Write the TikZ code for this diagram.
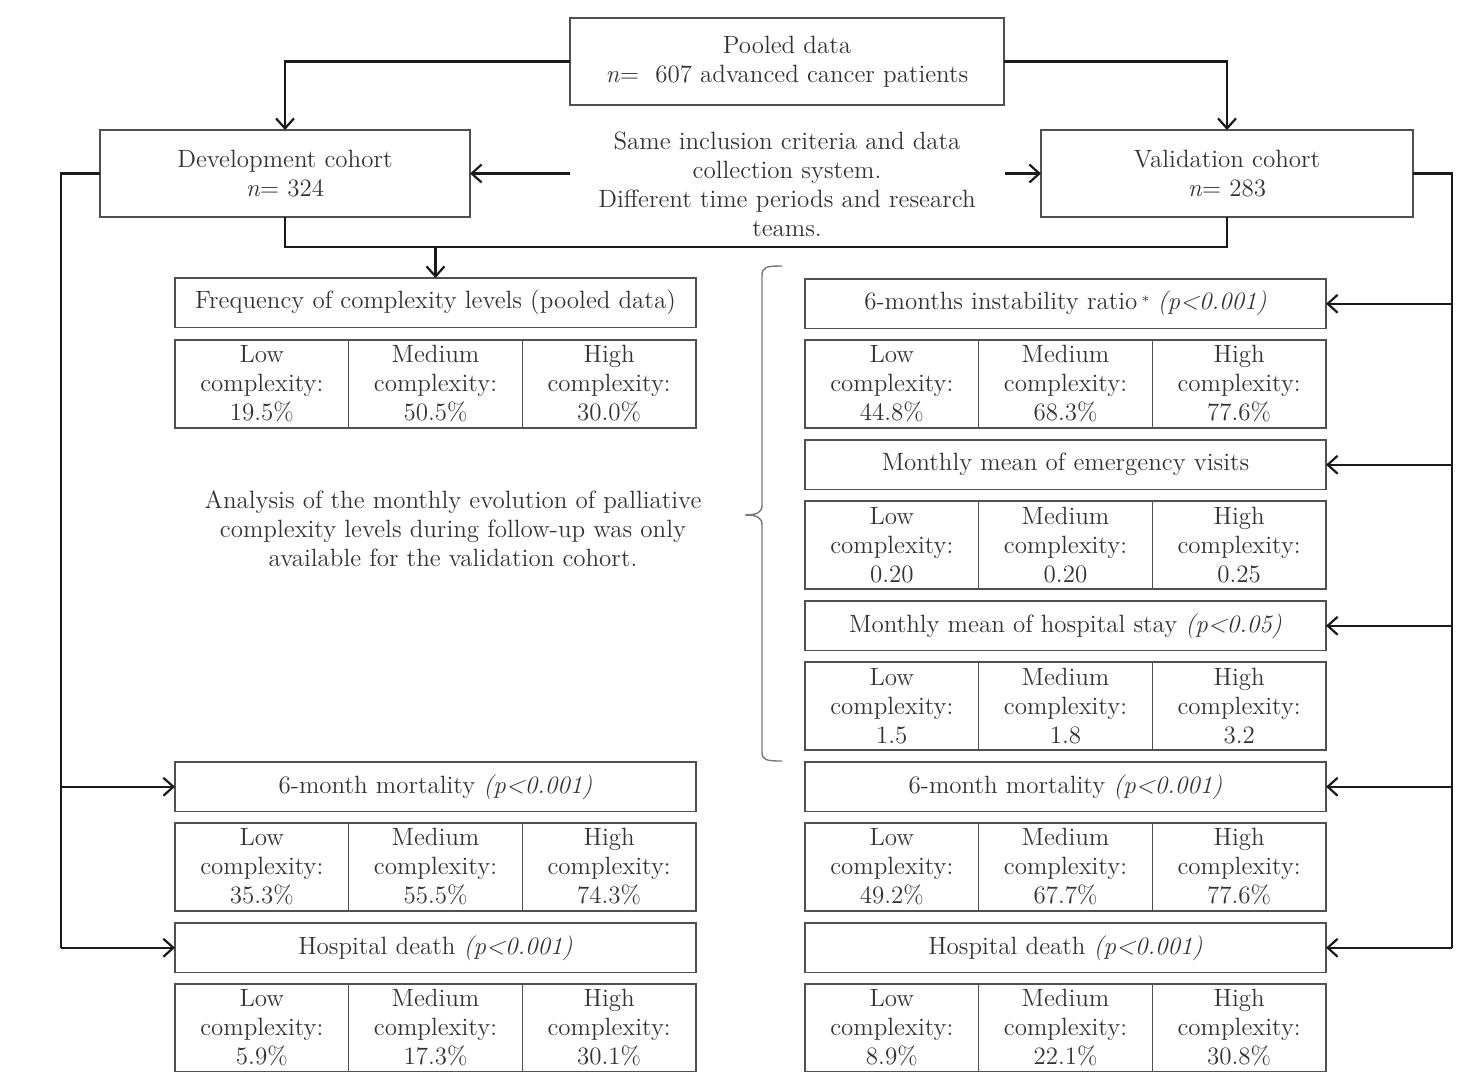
\documentclass[tikz,border=0pt]{standalone}
\usetikzlibrary{arrows.meta}
\definecolor{txtc}{HTML}{333333}
\definecolor{boxc}{HTML}{505050}
\definecolor{linec}{HTML}{1A1A1A}
\definecolor{bracec}{HTML}{777777}
\newcommand\mytab[6]{%
  \node[cell] (#1a) at (#2,#3) {Low\\complexity:\\#4};%
  \node[cell] (#1b) at (#1a.north east) {Medium\\complexity:\\#5};%
  \node[cell] (#1c) at (#1b.north east) {High\\complexity:\\#6};}
\begin{document}
\begin{tikzpicture}[x=0.5pt,y=-0.5pt,
  font=\fontsize{12.5}{14.5}\selectfont,
  boxst/.style={draw=boxc, line width=0.8pt, inner sep=0pt, outer sep=0pt, text=txtc, align=center, anchor=north west},
  titlebox/.style={boxst, minimum width=260.5pt, minimum height=24.75pt},
  cell/.style={boxst, minimum width=86.83pt, minimum height=44pt},
  plain/.style={text=txtc, align=center, inner sep=0pt},
  conn/.style={draw=linec, line width=1.1pt},
  arr/.style={conn, -{Straight Barb[length=5pt,width=9pt,line width=1.1pt]}}]
\useasboundingbox (0,0) rectangle (1481,1071);
\fill[white] (0,0) rectangle (1481,1071);

% top boxes
\node[boxst, minimum width=217pt, minimum height=43.5pt] (pool) at (570,18)
  {Pooled data\\\textit{n}=\ \ 607 advanced cancer patients};
\node[boxst, minimum width=185pt, minimum height=43.5pt] (dev) at (100,130)
  {Development cohort\\\textit{n}= 324};
\node[boxst, minimum width=186pt, minimum height=43.5pt] (val) at (1041,130)
  {Validation cohort\\\textit{n}= 283};
\node[plain] (same) at (787,184)
  {Same inclusion criteria and data\\collection system.\\Different time periods and research\\teams.};

% left column
\node[titlebox] (freq) at (175,278) {Frequency of complexity levels (pooled data)};
\mytab{lf}{175}{340}{19.5\%}{50.5\%}{30.0\%}
\node[plain] (anal) at (453,529)
  {Analysis of the monthly evolution of palliative\\complexity levels during follow-up was only\\available for the validation cohort.};
\node[titlebox] (lmort) at (175,762) {6-month mortality \textit{(p<0.001)}};
\mytab{lm}{175}{823}{35.3\%}{55.5\%}{74.3\%}
\node[titlebox] (ldeath) at (175,923) {Hospital death \textit{(p<0.001)}};
\mytab{ld}{175}{984}{5.9\%}{17.3\%}{30.1\%}

% right column
\node[titlebox] (rinst) at (805,279) {6-months instability ratio\,\raisebox{0.3ex}{\scriptsize*} \textit{(p<0.001)}};
\mytab{ri}{805}{340}{44.8\%}{68.3\%}{77.6\%}
\node[titlebox] (remer) at (805,440) {Monthly mean of emergency visits};
\mytab{re}{805}{501}{0.20}{0.20}{0.25}
\node[titlebox] (rstay) at (805,601) {Monthly mean of hospital stay \textit{(p<0.05)}};
\mytab{rs}{805}{662}{1.5}{1.8}{3.2}
\node[titlebox] (rmort) at (805,762) {6-month mortality \textit{(p<0.001)}};
\mytab{rm}{805}{823}{49.2\%}{67.7\%}{77.6\%}
\node[titlebox] (rdeath) at (805,923) {Hospital death \textit{(p<0.001)}};
\mytab{rd}{805}{984}{8.9\%}{22.1\%}{30.8\%}

% connectors top
\draw[arr] (pool.west) -| (dev.north);
\draw[arr] (pool.east) -| (val.north);
\coordinate (sL) at (570,173.5);
\coordinate (sR) at (1005,173.5);
\draw[arr] (sL) -- (dev.east);
\draw[arr] (sR) -- (val.west);
\draw[conn] (dev.south) -- ++(0,30) -| (val.south);
\coordinate (jn) at (freq.north |- 0,247);
\draw[arr] (jn) -- (freq.north);

% left bus
\path (61,0) coordinate (Lx);
\coordinate (La) at (Lx |- lmort.west);
\coordinate (Lb) at (Lx |- ldeath.west);
\draw[conn] (dev.west) -| (Lb);
\draw[arr] (La) -- (lmort.west);
\draw[arr] (Lb) -- (ldeath.west);

% right bus
\path (1452,0) coordinate (Rx);
\coordinate (R1) at (Rx |- rinst.east);
\coordinate (R2) at (Rx |- remer.east);
\coordinate (R3) at (Rx |- rstay.east);
\coordinate (R4) at (Rx |- rmort.east);
\coordinate (R5) at (Rx |- rdeath.east);
\draw[conn] (val.east) -| (R5);
\draw[arr] (R1) -- (rinst.east);
\draw[arr] (R2) -- (remer.east);
\draw[arr] (R3) -- (rstay.east);
\draw[arr] (R4) -- (rmort.east);
\draw[arr] (R5) -- (rdeath.east);

% brace
\draw[bracec, line width=0.7pt]
  (782,266) .. controls (766,266) and (762,267) .. (762,276) -- (762,505)
  .. controls (762,512) and (758,515) .. (745,515)
  .. controls (758,515) and (762,518) .. (762,525) -- (762,752)
  .. controls (762,760) and (766,761) .. (782,761);
\end{tikzpicture}
\end{document}
